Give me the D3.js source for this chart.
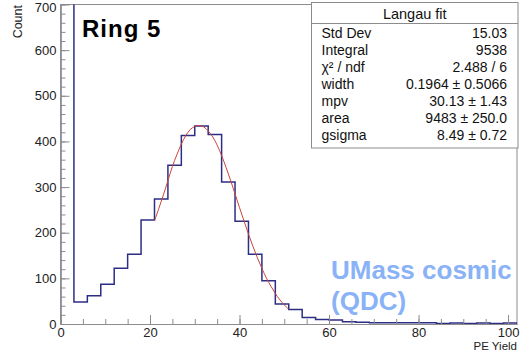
<!DOCTYPE html>
<html>
<head>
<meta charset="utf-8">
<script src="https://cdn.jsdelivr.net/npm/d3@7"></script>
<style>
  body { margin: 0; background: #fff; }
  svg { display: block; }
  text { font-family: "Liberation Sans", Arial, Helvetica, sans-serif; }
</style>
</head>
<body>
<svg id="chart" width="529" height="352"></svg>
<script>
// PE yield histogram, 3-unit bins starting at 0
const binWidth = 3;
const binStart = 0;
const counts = [6028, 48, 62, 87, 122, 153, 228, 274, 348, 413, 434, 415, 311, 225,
                153, 95, 44, 32, 14, 10, 9, 5, 4, 3, 3, 3, 3, 3, 1, 2, 1, 2, 1, 2];

// Langau fit curve over the fit range
const fitX = [21, 22, 23, 24, 25, 26, 27, 28, 29, 30, 31, 32, 33, 34, 35, 36,
              37, 38, 39, 40, 41, 42, 43, 44, 45, 46, 47, 48, 49, 50, 51];
const fitY = [226, 254, 283, 314, 345, 371, 394, 413, 426, 433, 435, 432, 423, 410, 392, 369,
              343, 315, 285, 255, 226, 197, 170, 145, 122, 101, 83, 67, 53, 42, 32];

const xDomain = [0, 102];
const yDomain = [0, 700];
const xMajorTicks = [0, 20, 40, 60, 80, 100];
const xMinorTicks = d3.range(0, 101, 5);
const yMajorTicks = [0, 100, 200, 300, 400, 500, 600, 700];
const yMinorTicks = d3.range(0, 701, 20);

const statsTitle = "Langau fit";
const statNames = ["Std Dev", "Integral", "χ² / ndf", "width", "mpv", "area", "gsigma"];
const statValues = ["15.03", "9538", "2.488 / 6", "0.1964 ± 0.5066", "30.13 ± 1.43", "9483 ± 250.0", "8.49 ± 0.72"];

const svg = d3.select("#chart");
const frame = { left: 60.5, right: 517, top: 4.5, bottom: 324 };
const axisColor = "#8c8c8c";

const x = d3.scaleLinear().domain(xDomain).range([frame.left, frame.right]);
const y = d3.scaleLinear().domain(yDomain).range([frame.bottom, frame.top]);

// clip region = plot frame
svg.append("clipPath").attr("id", "plotClip")
  .append("rect")
  .attr("x", frame.left).attr("y", frame.top)
  .attr("width", frame.right - frame.left).attr("height", frame.bottom - frame.top);

// frame top / right
svg.append("path")
  .attr("d", `M${frame.left},${frame.top}H${frame.right}V${frame.bottom}`)
  .attr("fill", "none").attr("stroke", axisColor).attr("stroke-width", 1);

// histogram outline
const bins = counts.map((c, i) => ({ x0: binStart + i * binWidth, x1: binStart + (i + 1) * binWidth, c }));
const stepPts = [[bins[0].x0, 0]];
bins.forEach(b => { stepPts.push([b.x0, b.c]); stepPts.push([b.x1, b.c]); });
stepPts.push([bins[bins.length - 1].x1, 0]);
svg.append("g").attr("clip-path", "url(#plotClip)")
  .append("path")
  .attr("d", d3.line().x(d => x(d[0])).y(d => y(d[1]))(stepPts))
  .attr("fill", "none").attr("stroke", "#2d2d85").attr("stroke-width", 1.5)
  .attr("stroke-linejoin", "miter");

// fit curve
svg.append("path")
  .datum(fitX.map((v, i) => [v, fitY[i]]))
  .attr("d", d3.line().x(d => x(d[0])).y(d => y(d[1])).curve(d3.curveCatmullRom))
  .attr("fill", "none").attr("stroke", "#c9463d").attr("stroke-width", 1);

// axes (ticks drawn inside the frame)
function styleAxis(g) {
  g.selectAll(".domain").attr("stroke", axisColor);
  g.selectAll(".tick line").attr("stroke", axisColor);
  g.selectAll("text").attr("fill", "#222").attr("font-size", 13)
    .attr("font-family", '"Liberation Sans", Arial, sans-serif');
}
svg.append("g").attr("transform", `translate(0,${frame.bottom})`)
  .call(d3.axisBottom(x).tickValues(xMinorTicks).tickFormat("").tickSizeInner(-5).tickSizeOuter(0))
  .call(styleAxis);
svg.append("g").attr("transform", `translate(0,${frame.bottom})`)
  .call(d3.axisBottom(x).tickValues(xMajorTicks).tickFormat(d3.format("d")).tickSizeInner(-9).tickSizeOuter(0).tickPadding(4))
  .call(styleAxis);
svg.append("g").attr("transform", `translate(${frame.left},0)`)
  .call(d3.axisLeft(y).tickValues(yMinorTicks).tickFormat("").tickSizeInner(-5).tickSizeOuter(0))
  .call(styleAxis);
const yAxisG = svg.append("g").attr("transform", `translate(${frame.left},0)`)
  .call(d3.axisLeft(y).tickValues(yMajorTicks).tickFormat(d3.format("d")).tickSizeInner(-9).tickSizeOuter(0).tickPadding(4))
  .call(styleAxis);
// keep the topmost label inside the page
yAxisG.selectAll(".tick").filter(d => d === yDomain[1]).select("text").attr("dy", "0.5em");

// axis titles
svg.append("text").text("Count")
  .attr("transform", `translate(22,5) rotate(-90)`)
  .attr("text-anchor", "end").attr("font-size", 12.5).attr("fill", "#222");
svg.append("text").text("PE Yield")
  .attr("x", frame.right).attr("y", 350)
  .attr("text-anchor", "end").attr("font-size", 11.5).attr("fill", "#222");

// annotations
svg.append("text").text("Ring 5")
  .attr("x", 82).attr("y", 36.5)
  .attr("font-size", 24).attr("font-weight", "bold").attr("letter-spacing", 1).attr("fill", "#000");
const um = svg.append("text").attr("font-size", 26).attr("font-weight", "bold").attr("fill", "#8ab2f6");
um.append("tspan").attr("x", 331).attr("y", 279).text("UMass cosmic");
um.append("tspan").attr("x", 331).attr("y", 310).text("(QDC)");

// statistics box
const box = { x: 311.5, y: 2.5, w: 206.5, h: 145.5 };
const sb = svg.append("g");
sb.append("rect").attr("x", box.x).attr("y", box.y).attr("width", box.w).attr("height", box.h)
  .attr("fill", "#fff").attr("stroke", "#8c8c8c").attr("stroke-width", 1);
sb.append("line").attr("x1", box.x).attr("x2", box.x + box.w).attr("y1", 23.5).attr("y2", 23.5)
  .attr("stroke", "#8c8c8c").attr("stroke-width", 1);
sb.append("text").text(statsTitle)
  .attr("x", box.x + box.w / 2).attr("y", 18.5).attr("text-anchor", "middle")
  .attr("font-size", 14.5).attr("fill", "#111");
statNames.forEach((n, i) => {
  const yy = 37.5 + i * 17;
  sb.append("text").text(n).attr("x", 321.5).attr("y", yy)
    .attr("font-size", 14).attr("fill", "#111");
  sb.append("text").text(statValues[i]).attr("x", 507).attr("y", yy)
    .attr("text-anchor", "end").attr("font-size", 14).attr("fill", "#111");
});
</script>
</body>
</html>
